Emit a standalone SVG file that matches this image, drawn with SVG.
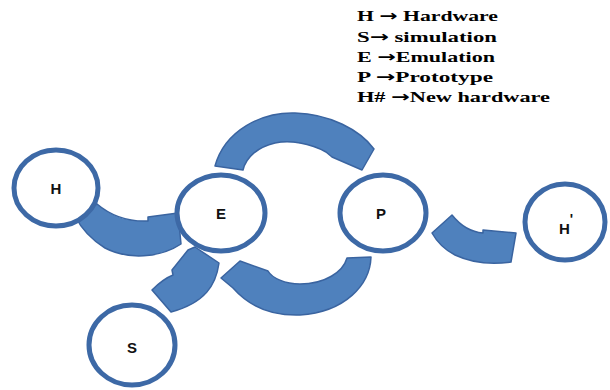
<svg xmlns="http://www.w3.org/2000/svg" width="610" height="390" viewBox="0 0 610 390">
<style>
.arrow{fill:#4f81bd;stroke:#3a64a0;stroke-width:1.5;stroke-linejoin:round}
.node ellipse{fill:#fff;stroke:#3d69a6;stroke-width:5}
.node text{font-family:"Liberation Sans",Arial,sans-serif;font-weight:bold;font-size:15px;fill:#111;text-anchor:middle}
.legend{font-family:"Liberation Serif","Times New Roman",serif;font-weight:bold;font-size:15px;fill:#000}
.ar{font-family:"DejaVu Sans",sans-serif;font-weight:bold}
</style>
<rect width="610" height="390" fill="#fff"/>
<g id="connectors">
<path class="arrow" d="M 75,216 L 97,204 C 110,215 125,222 148,221 L 148,217 L 178,213 L 181,244 C 160,258 128,260 105,248 C 92,240 82,230 75,216 Z"/>
<path class="arrow" d="M 215,166 C 225,130 262,112 295,113 C 330,114 360,130 374,149 L 362,170 L 332,157 L 326,152 C 310,143 290,140 275,143 C 258,147 246,157 243,170 Z"/>
<path class="arrow" d="M 347,258 L 371,257 C 370,285 345,312 300,315 C 270,316 248,305 233,288 L 221,278 L 240,261 L 268,271 C 272,278 285,284 300,284 C 325,284 343,272 347,258 Z"/>
<path class="arrow" d="M 152,290 C 160,282 168,277 173,275 L 172,270 L 188,250 L 195,247 L 219,263 C 216,285 205,303 171,312 Z"/>
<path class="arrow" d="M 432,233 L 452,215 C 460,225 470,232 483,233 L 483,230 L 516,233 L 511,262 C 490,265 470,262 455,255 C 445,250 437,242 432,233 Z"/>
</g>
<g id="node-H" class="node"><ellipse cx="56" cy="188" rx="42" ry="38"/><text x="56" y="194">H</text></g>
<g id="node-E" class="node"><ellipse cx="221" cy="213" rx="44" ry="38"/><text x="221" y="219">E</text></g>
<g id="node-P" class="node"><ellipse cx="383" cy="213" rx="43" ry="38"/><text x="381" y="219">P</text></g>
<g id="node-S" class="node"><ellipse cx="132" cy="345" rx="43" ry="40"/><text x="132" y="353">S</text></g>
<g id="node-H2" class="node"><ellipse cx="565" cy="222" rx="40" ry="38"/><text x="566" y="234">H<tspan dy="-10" font-size="14">'</tspan></text></g>
<g id="legend" class="legend">
<text x="357" y="21" textLength="141" lengthAdjust="spacingAndGlyphs">H <tspan class="ar">→</tspan> Hardware</text>
<text x="357" y="42" textLength="140" lengthAdjust="spacingAndGlyphs">S<tspan class="ar">→</tspan>  simulation</text>
<text x="357" y="62" textLength="138" lengthAdjust="spacingAndGlyphs">E <tspan class="ar">→</tspan>Emulation</text>
<text x="357" y="82" textLength="136" lengthAdjust="spacingAndGlyphs">P <tspan class="ar">→</tspan>Prototype</text>
<text x="357" y="102" textLength="193" lengthAdjust="spacingAndGlyphs">H# <tspan class="ar">→</tspan>New hardware</text>
</g>
</svg>
